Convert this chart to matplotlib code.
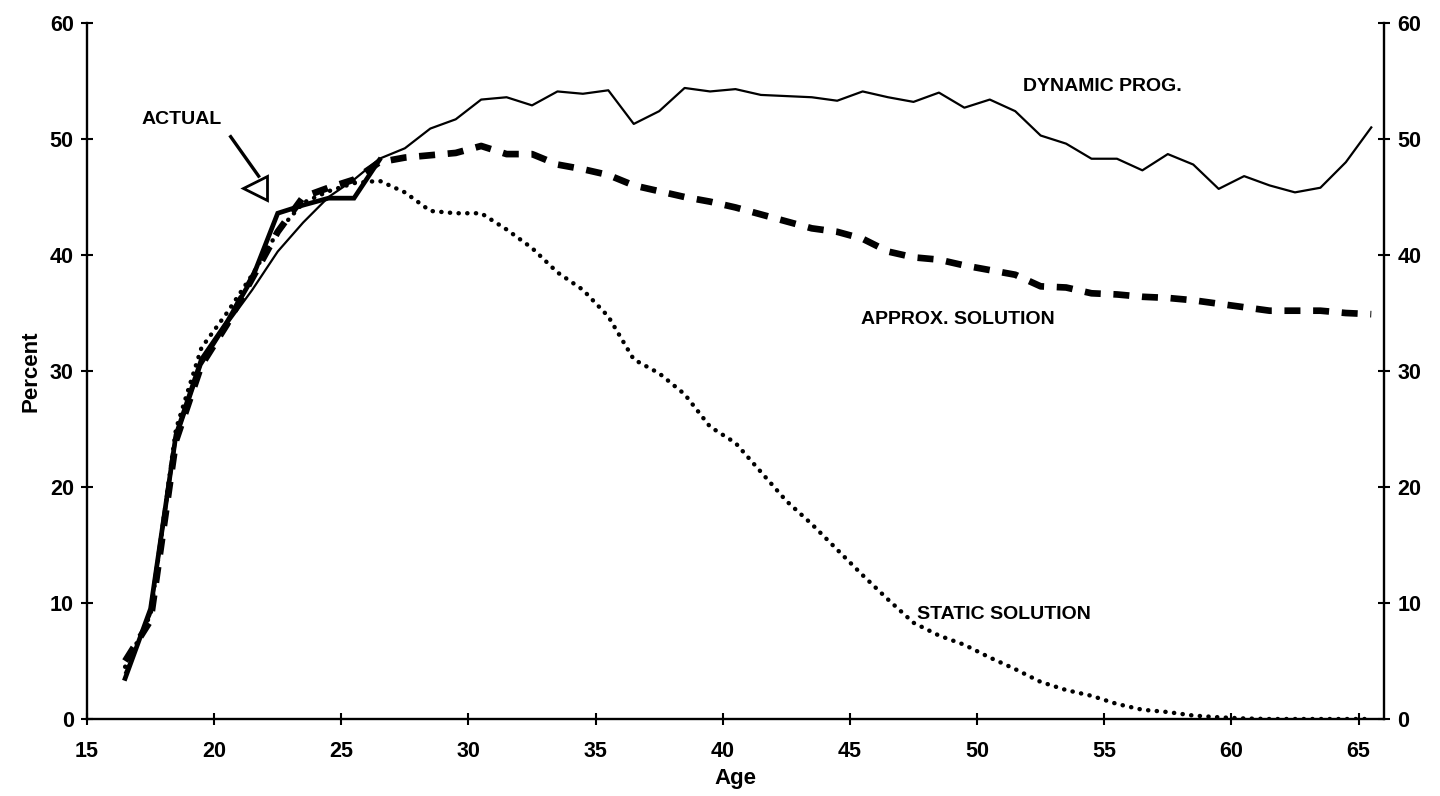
import matplotlib
matplotlib.use("Agg")
import matplotlib.pyplot as plt
import numpy as np

plt.rcParams['font.family'] = ['Liberation Sans', 'DejaVu Sans']

# Ages (one point per age, plotted at the middle of each age category)
ages = list(range(16, 66))

dynamic_prog = [4.0, 9.0, 24.0, 30.5, 34.0, 37.0, 40.3, 42.8, 45.0, 46.5,
                48.3, 49.2, 50.9, 51.7, 53.4, 53.6, 52.9, 54.1, 53.9, 54.2,
                51.3, 52.4, 54.4, 54.1, 54.3, 53.8, 53.7, 53.6, 53.3, 54.1,
                53.6, 53.2, 54.0, 52.7, 53.4, 52.4, 50.3, 49.6, 48.3, 48.3,
                47.3, 48.7, 47.8, 45.7, 46.8, 46.0, 45.4, 45.8, 48.0, 51.0]

approx_solution = [5.0, 8.5, 24.0, 30.5, 34.0, 38.0, 42.0, 45.0, 45.8, 46.5,
                   48.0, 48.4, 48.6, 48.8, 49.4, 48.7, 48.7, 47.8, 47.4, 46.9,
                   46.0, 45.5, 45.0, 44.6, 44.1, 43.5, 42.9, 42.3, 42.0, 41.4,
                   40.3, 39.8, 39.6, 39.1, 38.7, 38.3, 37.3, 37.2, 36.7, 36.6,
                   36.4, 36.3, 36.1, 35.8, 35.5, 35.2, 35.2, 35.2, 35.0, 34.9]

static_solution = [4.5, 9.0, 25.0, 32.0, 35.0, 38.3, 42.0, 44.5, 45.5, 46.2,
                   46.4, 45.4, 43.8, 43.6, 43.6, 42.2, 40.6, 38.5, 37.0, 34.7,
                   31.0, 29.8, 28.0, 25.2, 23.8, 21.3, 18.8, 16.8, 14.6, 12.4,
                   10.3, 8.3, 7.2, 6.4, 5.3, 4.3, 3.2, 2.5, 2.0, 1.3,
                   0.8, 0.6, 0.3, 0.15, 0.05, 0.0, 0.0, 0.0, 0.0, 0.0]

actual_ages = list(range(16, 27))
actual = [3.5, 9.5, 24.5, 31.0, 34.2, 38.0, 43.6, 44.3, 44.9, 44.9, 48.2]

x_ticks = [15, 20, 25, 30, 35, 40, 45, 50, 55, 60, 65]
y_ticks = [0, 10, 20, 30, 40, 50, 60]

fig = plt.figure(figsize=(14.4, 7.96), dpi=100)
ax = fig.add_axes([0.0604, 0.0967, 0.9007, 0.8744])

xpos = np.array(ages) + 0.5
xpos_act = np.array(actual_ages) + 0.5

ax.plot(xpos, static_solution, color='black', lw=3.2,
        linestyle=(0, (0.05, 1.9)), dash_capstyle='round', zorder=2)
ax.plot(xpos, approx_solution, color='black', lw=4.8,
        linestyle=(0, (2.4, 1.9)), dash_capstyle='butt', zorder=3)
ax.plot(xpos, dynamic_prog, color='black', lw=1.6, zorder=4)
ax.plot(xpos_act, actual, color='black', lw=3.4, solid_joinstyle='miter', zorder=5)

ax.set_xlim(15, 66)
ax.set_ylim(0, 60)
ax.set_xticks(x_ticks)
ax.set_yticks(y_ticks)

for side in ['left', 'bottom', 'right']:
    ax.spines[side].set_linewidth(1.7)
ax.spines['top'].set_visible(False)

ax.tick_params(axis='both', which='major', direction='inout', length=9, width=1.5,
               labelsize=15.5)
ax.tick_params(axis='y', right=True, labelright=True, pad=5)
ax.tick_params(axis='x', pad=11)
for lab in ax.get_xticklabels() + ax.get_yticklabels() + ax.get_yticklabels(which='both'):
    lab.set_fontweight('bold')
for lab in ax.yaxis.get_ticklabels(which='both'):
    lab.set_fontweight('bold')
for t in ax.yaxis.get_major_ticks():
    t.label2.set_fontweight('bold')

ax.set_xlabel('Age', fontsize=16, labelpad=5, fontweight='bold')
ax.set_ylabel('Percent', fontsize=16, labelpad=6, fontweight='bold')

ann = dict(fontsize=14, fontweight='bold', va='center', ha='left')
ax.text(51.8, 54.5, 'DYNAMIC PROG.', **ann)
ax.text(45.45, 34.4, 'APPROX. SOLUTION', **ann)
ax.text(47.65, 9.0, 'STATIC SOLUTION', **ann)
ax.text(17.15, 51.7, 'ACTUAL', **ann)

ax.plot([20.65, 21.75], [50.2, 46.8], color='black', lw=2.4, zorder=6)
ax.plot([21.6], [45.8], marker='<', markersize=17, markerfacecolor='white',
        markeredgecolor='black', markeredgewidth=2.0, zorder=7)

fig.savefig('out.png', dpi=100)
